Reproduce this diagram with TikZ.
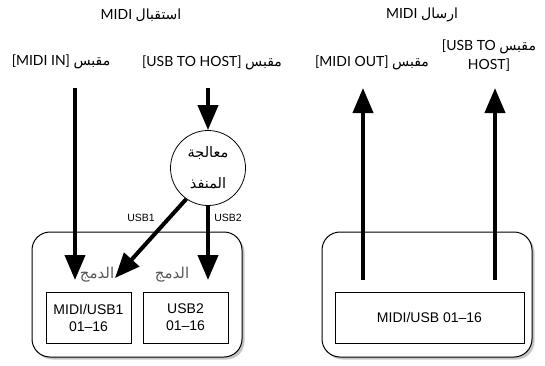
\documentclass[tikz,border=0pt]{standalone}
\usepackage{fontspec}
\setmainfont{Lato}
\newfontfamily\arabicfont[Script=Arabic]{DejaVu Sans}
\newfontfamily\boxfont{Liberation Sans}
\TeXXeTstate=1
\usetikzlibrary{arrows.meta,shadows}

\tikzset{
  fleche/.style={line width=4pt,-{Triangle[length=25pt,width=20pt]}},
  boitier/.style={draw,line width=1pt,rounded corners=18pt,fill=white,
    drop shadow={shadow xshift=2.5pt,shadow yshift=-2.5pt,fill=black!45}},
  canal/.style={draw,line width=0.8pt,align=center,
    font=\boxfont\fontsize{14}{17}\selectfont},
  prise/.style={align=center,inner sep=1pt,font=\fontsize{14}{19}\selectfont},
  fusion/.style={text=black!65,font=\arabicfont\fontsize{15}{17}\selectfont},
  usb/.style={font=\boxfont\fontsize{10.5}{12}\selectfont},
}

\begin{document}
\begin{tikzpicture}[x=1pt,y=-1pt]
\useasboundingbox (0,0) rectangle (545,365);

% Reception
\node[prise] (titrein) at (141,15) {\beginR{\arabicfont استقبال} \beginL MIDI\endL\endR};

\node[boitier,minimum width=210pt,minimum height=125pt] (boxin) at (137,294.5) {};
\node[canal,minimum width=85pt,minimum height=51pt] (canal1) at (88.5,317.5) {MIDI/USB1\\01–16};
\node[canal,minimum width=85pt,minimum height=51pt] (canal2) at (185.5,317.5) {USB2\\01–16};
\node[fusion] (fusion1) at (97,275) {\beginR الدمج\endR};
\node[fusion] (fusion2) at (172,275) {\beginR الدمج\endR};

\node[prise] (midiin) at (61,62) {\beginR{\arabicfont مقبس} \beginL[MIDI IN]\endL\endR};
\node[prise] (usbhost) at (212,63) {\beginR{\arabicfont مقبس} \beginL[USB TO HOST]\endL\endR};

\node[draw,circle,line width=0.8pt,minimum size=75pt,inner sep=0pt,align=center,
  font=\arabicfont\fontsize{14.5}{31}\selectfont] (port) at (208,168)
  {\beginR معالجة\endR\\\beginR المنفذ\endR};

\coordinate (inhaut) at (75,88);
\coordinate (inbas) at (75,280);
\coordinate (hosthaut) at (208,88);
\coordinate (bas1) at (115,278);
\coordinate (bas2) at (208,280);

\draw[fleche] (inhaut) -- (inbas);
\draw[fleche] (hosthaut) -- (port.north);
\draw[fleche] (port.235) -- (bas1);
\draw[fleche] (port.south) -- (bas2);

\node[usb] (lblusb1) at (141,218) {USB1};
\node[usb] (lblusb2) at (228,218) {USB2};

% Transmission
\node[prise] (titreout) at (422,15) {\beginR{\arabicfont ارسال} \beginL MIDI\endL\endR};

\node[boitier,minimum width=210pt,minimum height=125pt] (boxout) at (427,294.5) {};
\node[canal,minimum width=189pt,minimum height=51pt] (canal3) at (429.5,317.5) {MIDI/USB 01–16};

\node[prise] (midiout) at (372,63) {\beginR{\arabicfont مقبس} \beginL[MIDI OUT]\endL\endR};
\node[prise] (usbout) at (489,56) {\beginR{\arabicfont مقبس} \beginL[USB TO\endL\endR\\HOST]};

\coordinate (outbas1) at (363,280);
\coordinate (outhaut1) at (363,88);
\coordinate (outbas2) at (495,280);
\coordinate (outhaut2) at (495,88);

\draw[fleche] (outbas1) -- (outhaut1);
\draw[fleche] (outbas2) -- (outhaut2);

\end{tikzpicture}
\end{document}
